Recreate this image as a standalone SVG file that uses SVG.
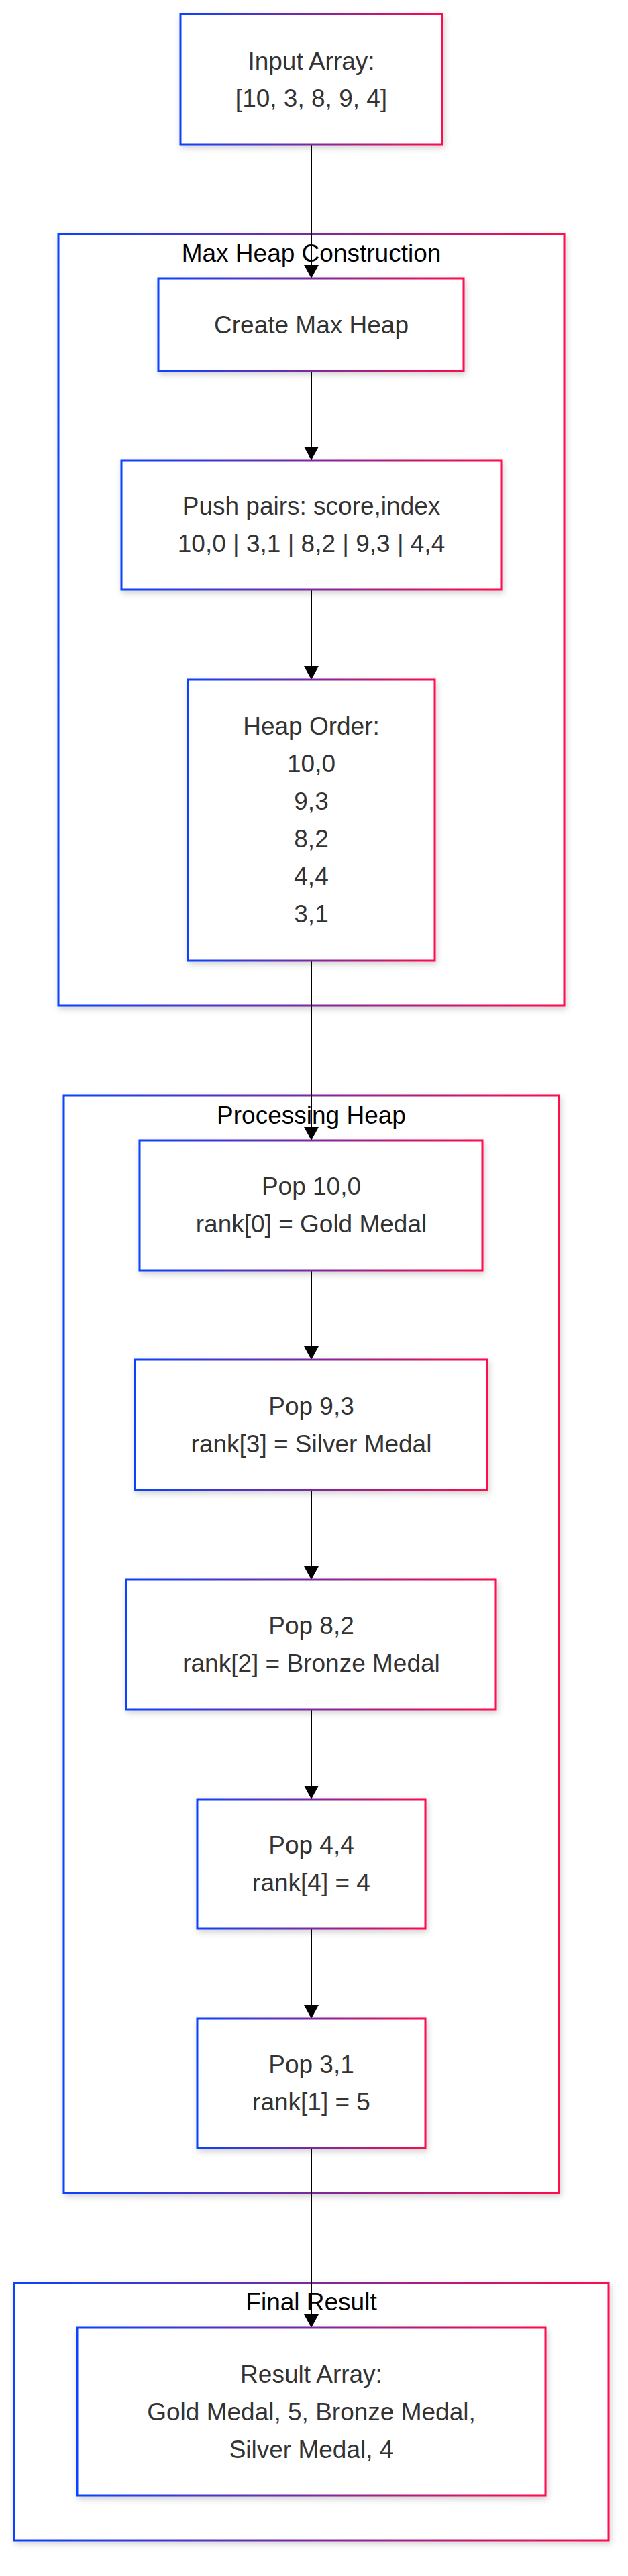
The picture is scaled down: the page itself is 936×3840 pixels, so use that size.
<svg xmlns="http://www.w3.org/2000/svg" width="936" height="3840" viewBox="0 0 936 3840">
<defs>
<linearGradient id="g" x1="0" y1="0" x2="1" y2="0">
<stop offset="0" stop-color="#0a42ff"/>
<stop offset="0.5" stop-color="#7a2a9e"/>
<stop offset="1" stop-color="#ff0a4c"/>
</linearGradient>
<filter id="sh" x="-20%" y="-20%" width="140%" height="140%">
<feDropShadow dx="2" dy="4" stdDeviation="5" flood-color="#000" flood-opacity="0.18"/>
</filter>
<marker id="arr" viewBox="0 0 20 22" refX="20" refY="11" markerWidth="20" markerHeight="22" markerUnits="userSpaceOnUse" orient="auto">
<path d="M0,0 L20,11 L0,22 z" fill="#000"/>
</marker>
</defs>
<style>
.box{fill:#fff;stroke:url(#g);stroke-width:3;filter:url(#sh)}
.t{font-family:"Liberation Sans",Arial,sans-serif;font-size:37px;fill:#333;text-anchor:middle;dominant-baseline:central}
.ct{font-family:"Liberation Sans",Arial,sans-serif;font-size:37px;fill:#000;text-anchor:middle;dominant-baseline:central}
.e{stroke:#000;stroke-width:2;fill:none;marker-end:url(#arr)}
</style>
<rect width="936" height="3840" fill="#fff"/>
<g id="cluster-maxheap">
<rect class="box" x="87" y="349" width="754" height="1150"/>
<text class="ct" x="464" y="377">Max Heap Construction</text>
</g>
<g id="cluster-processing">
<rect class="box" x="95" y="1633" width="738" height="1636"/>
<text class="ct" x="464" y="1662">Processing Heap</text>
</g>
<g id="cluster-final">
<rect class="box" x="21.5" y="3403" width="885.5" height="384"/>
<text class="ct" x="464" y="3431">Final Result</text>
</g>
<g id="edges">
<line class="e" x1="464" y1="215" x2="464" y2="415"/>
<line class="e" x1="464" y1="553" x2="464" y2="686"/>
<line class="e" x1="464" y1="879" x2="464" y2="1013"/>
<line class="e" x1="464" y1="1432" x2="464" y2="1700"/>
<line class="e" x1="464" y1="1894" x2="464" y2="2027"/>
<line class="e" x1="464" y1="2221" x2="464" y2="2355"/>
<line class="e" x1="464" y1="2548" x2="464" y2="2682"/>
<line class="e" x1="464" y1="2875" x2="464" y2="3009"/>
<line class="e" x1="464" y1="3202" x2="464" y2="3470"/>
</g>
<g id="input">
<rect class="box" x="269" y="21" width="390" height="194"/>
<text class="t" x="464" y="91">Input Array:</text>
<text class="t" x="464" y="146">[10, 3, 8, 9, 4]</text>
</g>
<g id="create">
<rect class="box" x="236" y="415" width="455" height="138"/>
<text class="t" x="464" y="484">Create Max Heap</text>
</g>
<g id="push">
<rect class="box" x="181" y="686" width="566" height="193"/>
<text class="t" x="464" y="754.5">Push pairs: score,index</text>
<text class="t" x="464" y="810">10,0 | 3,1 | 8,2 | 9,3 | 4,4</text>
</g>
<g id="heaporder">
<rect class="box" x="280" y="1013" width="368" height="419"/>
<text class="t" x="464" y="1082">Heap Order:</text>
<text class="t" x="464" y="1138">10,0</text>
<text class="t" x="464" y="1194.5">9,3</text>
<text class="t" x="464" y="1250.5">8,2</text>
<text class="t" x="464" y="1306.5">4,4</text>
<text class="t" x="464" y="1362.5">3,1</text>
</g>
<g id="pop1">
<rect class="box" x="208" y="1700" width="511" height="194"/>
<text class="t" x="464" y="1768">Pop 10,0</text>
<text class="t" x="464" y="1824">rank[0] = Gold Medal</text>
</g>
<g id="pop2">
<rect class="box" x="201" y="2027" width="525" height="194"/>
<text class="t" x="464" y="2096">Pop 9,3</text>
<text class="t" x="464" y="2152">rank[3] = Silver Medal</text>
</g>
<g id="pop3">
<rect class="box" x="188" y="2355" width="551" height="193"/>
<text class="t" x="464" y="2423">Pop 8,2</text>
<text class="t" x="464" y="2479">rank[2] = Bronze Medal</text>
</g>
<g id="pop4">
<rect class="box" x="294" y="2682" width="340" height="193"/>
<text class="t" x="464" y="2750.5">Pop 4,4</text>
<text class="t" x="464" y="2806.5">rank[4] = 4</text>
</g>
<g id="pop5">
<rect class="box" x="294" y="3009" width="340" height="193"/>
<text class="t" x="464" y="3077.5">Pop 3,1</text>
<text class="t" x="464" y="3133.5">rank[1] = 5</text>
</g>
<g id="result">
<rect class="box" x="115" y="3470" width="698" height="250"/>
<text class="t" x="464" y="3539">Result Array:</text>
<text class="t" x="464" y="3595">Gold Medal, 5, Bronze Medal,</text>
<text class="t" x="464" y="3651">Silver Medal, 4</text>
</g>
</svg>
